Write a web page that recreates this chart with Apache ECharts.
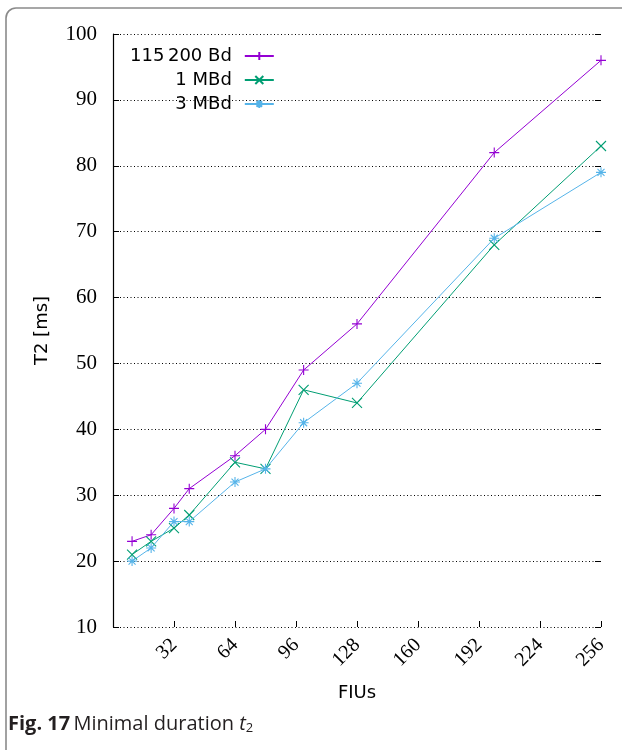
<!DOCTYPE html>
<html>
<head>
<meta charset="utf-8">
<script src="https://cdn.jsdelivr.net/npm/echarts@6/dist/echarts.min.js"></script>
<style>
  html, body { margin: 0; padding: 0; background: #fff; }
  #chart { width: 622px; height: 750px; }
</style>
</head>
<body>
<div id="chart"></div>
<script>
// Number of FIUs on the x axis
const fius = [10, 20, 32, 40, 64, 80, 100, 128, 200, 256];
// Minimal duration T2 in ms per baud rate
const t2Bd115200 = [23, 24, 28, 31, 36, 40, 49, 56, 82, 96];
const t2Mbd1 = [21, 23, 25, 27, 35, 34, 46, 44, 68, 83];
const t2Mbd3 = [20, 22, 26, 26, 32, 34, 41, 47, 69, 79];
const seriesNames = ['115\u2009200 Bd', '1 MBd', '3 MBd'];
const seriesColors = ['#9400d3', '#009e73', '#56b4e9'];

// gnuplot style point markers: plus, cross and star
const plusPath = 'path://M0,5L10,5M5,0L5,10';
const crossPath = 'path://M1,1L9,9M1,9L9,1';
const starPath = 'path://M0,5L10,5M5,0L5,10M1.5,1.5L8.5,8.5M1.5,8.5L8.5,1.5';
const markers = [plusPath, crossPath, starPath];

const serifFont = '"Liberation Serif", "DejaVu Serif", serif';
const sansFont = '"DejaVu Sans", sans-serif';
const captionFont = '"Open Sans", "Noto Sans", sans-serif';

function pairs(ys) {
  return fius.map((x, i) => [x, ys[i]]);
}

const chart = echarts.init(document.getElementById('chart'), null, { renderer: 'canvas' });

const series = [t2Bd115200, t2Mbd1, t2Mbd3].map((ys, i) => ({
  name: seriesNames[i],
  type: 'line',
  data: pairs(ys),
  symbol: markers[i],
  symbolSize: 10,
  showAllSymbol: true,
  animation: false,
  lineStyle: { color: seriesColors[i], width: 1 },
  itemStyle: { color: 'rgba(0,0,0,0)', borderColor: seriesColors[i], borderWidth: 1.1 },
  emphasis: { disabled: true }
}));

chart.setOption({
  animation: false,
  grid: { left: 113, right: 21, top: 34, bottom: 123, containLabel: false },
  legend: {
    orient: 'vertical',
    left: 125,
    top: 42,
    align: 'right',
    itemGap: 6,
    itemWidth: 29,
    itemHeight: 10,
    selectedMode: false,
    data: seriesNames,
    textStyle: {
      fontFamily: sansFont,
      fontSize: 18,
      color: '#000',
      width: 106,
      align: 'right',
      padding: [0, 8, 0, 0]
    }
  },
  xAxis: {
    type: 'value',
    min: 0,
    max: 256,
    interval: 32,
    name: 'FIUs',
    nameLocation: 'middle',
    nameGap: 57,
    nameTextStyle: { fontFamily: sansFont, fontSize: 18, color: '#000' },
    axisLine: { show: false },
    axisTick: { show: true, inside: true, length: 6, lineStyle: { color: '#000', width: 1 } },
    splitLine: { show: false },
    axisLabel: {
      rotate: 45,
      margin: 15,
      fontFamily: serifFont,
      fontSize: 20,
      color: '#000',
      formatter: v => (v === 0 ? '' : String(v))
    }
  },
  yAxis: [
    {
      type: 'value',
      min: 10,
      max: 100,
      interval: 10,
      name: 'T2 [ms]',
      nameLocation: 'middle',
      nameGap: 62,
      nameTextStyle: { fontFamily: sansFont, fontSize: 18, color: '#000' },
      axisLine: { show: true, lineStyle: { color: '#000', width: 1.2 } },
      axisTick: { show: true, inside: true, length: 6, lineStyle: { color: '#000', width: 1 } },
      splitLine: { show: true, lineStyle: { color: '#000', width: 1, type: [1, 2.5] } },
      axisLabel: { margin: 16, fontFamily: serifFont, fontSize: 21, color: '#000' }
    },
    {
      type: 'value',
      position: 'right',
      min: 10,
      max: 100,
      interval: 10,
      axisLine: { show: false },
      axisTick: { show: true, inside: true, length: 6, lineStyle: { color: '#000', width: 1 } },
      splitLine: { show: false },
      axisLabel: { show: false }
    }
  ],
  series: series,
  graphic: [
    {
      type: 'rect',
      silent: true,
      shape: { x: 6, y: 8, width: 700, height: 800, r: 10 },
      style: { fill: 'none', stroke: '#8a8a8a', lineWidth: 1.6 }
    },
    {
      type: 'text',
      left: 8,
      top: 714,
      silent: true,
      style: {
        text: '{b|Fig. 17} {n|Minimal duration }{i|t}{s|2}',
        rich: {
          b: { fontFamily: captionFont, fontWeight: 'bold', fontSize: 20, fill: '#231f20' },
          n: { fontFamily: captionFont, fontSize: 20, fill: '#231f20' },
          i: { fontFamily: captionFont, fontStyle: 'italic', fontSize: 20, fill: '#231f20' },
          s: { fontFamily: captionFont, fontSize: 13, fill: '#231f20', padding: [9, 0, 0, 0] }
        }
      }
    }
  ]
});
</script>
</body>
</html>
